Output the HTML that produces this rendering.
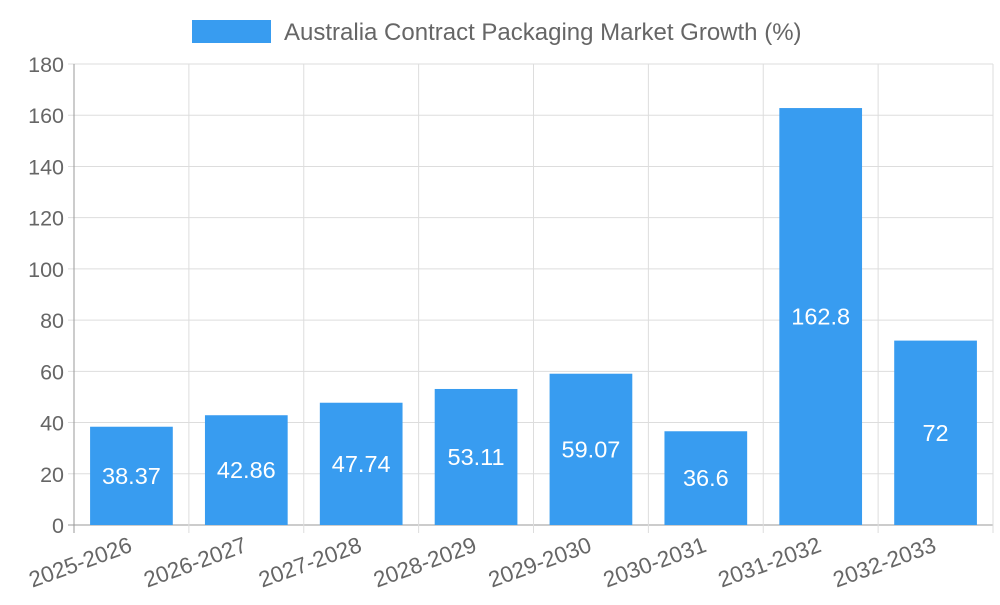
<!DOCTYPE html>
<html><head><meta charset="utf-8"><style>
html,body{margin:0;padding:0;background:#fff;}
svg text{font-family:"Liberation Sans",sans-serif;}
</style></head><body>
<svg id="chart" width="1000" height="600">
<rect x="192" y="20" width="79" height="23" fill="#389cf0"></rect>
<text x="284" y="40" font-size="24" fill="#666">Australia Contract Packaging Market Growth (%)</text>
<g id="grid"></g><g id="bars"></g><g id="labels"></g>
</svg>
<script>
const categories=["2025-2026","2026-2027","2027-2028","2028-2029","2029-2030","2030-2031","2031-2032","2032-2033"];
const values=[38.37,42.86,47.74,53.11,59.07,36.6,162.8,72];
const yTicks=[0,20,40,60,80,100,120,140,160,180];
const L=74,R=993,T=64,B=525,yMax=180;
const ns="http://www.w3.org/2000/svg";
const y=v=>B-(v/yMax)*(B-T);
const bw=(R-L)/categories.length;
const x=i=>L+i*bw;
function mk(tag,attrs,parent,txt){const e=document.createElementNS(ns,tag);for(const k in attrs)e.setAttribute(k,attrs[k]);if(txt!==undefined)e.textContent=txt;document.getElementById(parent).appendChild(e);return e;}
yTicks.forEach(t=>{
 const l=mk('line',{x1:L-6,x2:R,y1:y(t),y2:y(t),stroke:t===0?'#999':'#ddd','stroke-width':1},'grid');
 
 
 const tx=mk('text',{x:L-10,y:y(t)+8,'text-anchor':'end','font-size':21.5,fill:'#666'},'grid',String(t));
 
 
});
for(let i=0;i<=categories.length;i++){
 const l=mk('line',{x1:x(i),x2:x(i),y1:T,y2:B+8,stroke:i===0?'#999':'#ddd','stroke-width':1},'grid');
 
 
}
categories.forEach((c,i)=>{
 const w=bw*0.72,bx=x(i)+(bw-w)/2,v=values[i];
 const r=mk('rect',{x:bx,y:y(v),width:w,height:B-y(v),fill:'#389cf0'},'bars');
 
 
 const vl=mk('text',{x:x(i)+bw/2,y:(y(v)+B)/2+8,'text-anchor':'middle','font-size':23.5,fill:'#fff'},'labels',String(v));
 
 
 const cx=x(i)+bw/2+2,cy=B+26;
 const xl=mk('text',{x:cx,y:cy,'text-anchor':'end','font-size':22.5,fill:'#666',transform:`rotate(-20 ${cx} ${cy})`},'labels',c);
 
 
});
</script>
</body></html>
